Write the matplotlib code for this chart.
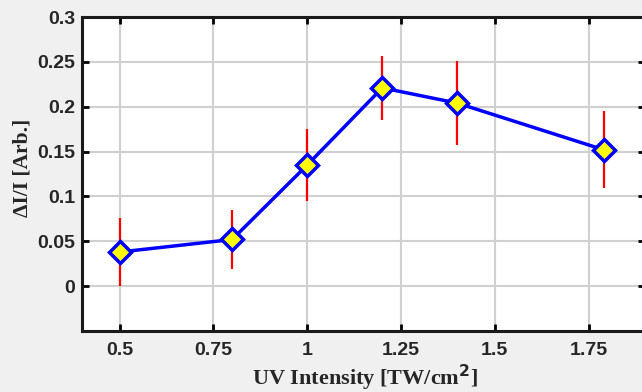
import numpy as np
import matplotlib
matplotlib.use("Agg")
import matplotlib.pyplot as plt

# UV intensity scan
intensity = [0.5, 0.8, 1.0, 1.2, 1.4, 1.79]
signal = [0.038, 0.052, 0.135, 0.221, 0.204, 0.152]
err = [0.038, 0.033, 0.040, 0.036, 0.047, 0.043]
x_ticks = [0.5, 0.75, 1, 1.25, 1.5, 1.75]
x_ticklabels = ["0.5", "0.75", "1", "1.25", "1.5", "1.75"]
y_ticks = [0, 0.05, 0.1, 0.15, 0.2, 0.25, 0.3]
y_ticklabels = ["0", "0.05", "0.1", "0.15", "0.2", "0.25", "0.3"]

W, H = 642, 392
fig = plt.figure(figsize=(W / 100, H / 100), dpi=100, facecolor="#f0f0f0")
# axes run past the right edge of the picture (cropped)
ax = fig.add_axes([82 / W, 1 - 331 / H, (645 - 82) / W, (331 - 17) / H])
ax.set_facecolor("white")

ax.errorbar(intensity, signal, yerr=err, fmt="none", ecolor="red",
            elinewidth=1.6, capsize=0, zorder=3)
ax.plot(intensity, signal, color="blue", lw=2.5, marker="D", ms=11,
        mfc="yellow", mec="blue", mew=2.5, zorder=4)

ax.set_xlim(0.4, 1.9)
ax.set_ylim(-0.05, 0.3)
ax.set_xticks(x_ticks)
ax.set_xticklabels(x_ticklabels)
ax.set_yticks(y_ticks)
ax.set_yticklabels(y_ticklabels)
ax.grid(True, color="#d0d0d0", lw=1.5)
ax.set_axisbelow(True)

ax.tick_params(direction="in", length=5, width=2, top=True, right=True,
               labelsize=14)
ax.tick_params(axis="x", pad=8)
ax.tick_params(axis="y", pad=5)
for lab in ax.get_xticklabels() + ax.get_yticklabels():
    lab.set_fontfamily("Liberation Sans")
    lab.set_fontweight("bold")
    lab.set_color("#262626")
for sp in ax.spines.values():
    sp.set_linewidth(2.2)
    sp.set_color("#1a1a1a")

ax.set_xlabel("UV Intensity [TW/cm$^\\mathbf{2}$]", fontfamily="Liberation Serif",
              fontweight="bold", fontsize=16, color="#262626")
ax.set_ylabel("ΔI/I [Arb.]", fontfamily="Liberation Serif",
              fontweight="bold", fontsize=15.5, color="#262626")
ax.xaxis.set_label_coords((365 - 82) / (645 - 82), -0.1)
ax.yaxis.set_label_coords(-0.088, 0.52)

fig.savefig("out.png", dpi=100, facecolor=fig.get_facecolor())
